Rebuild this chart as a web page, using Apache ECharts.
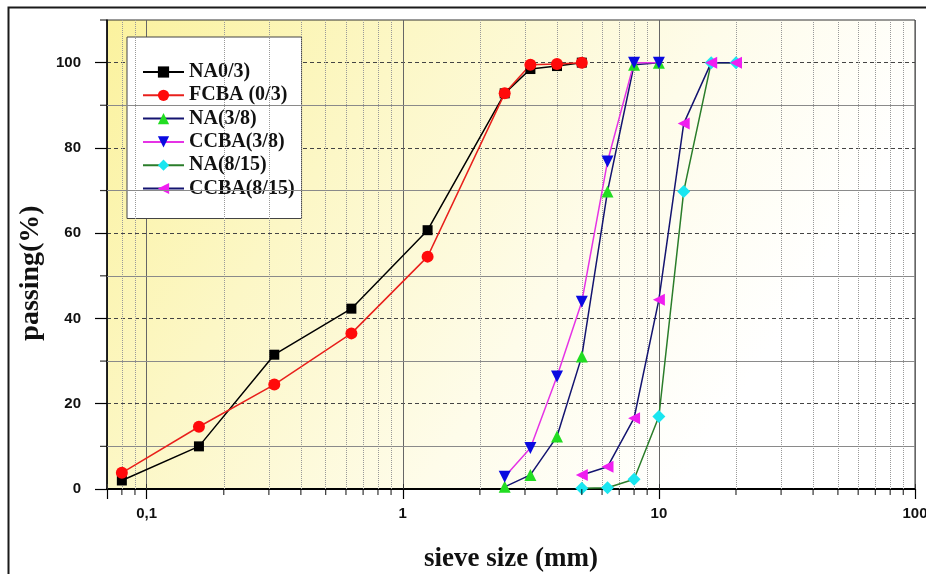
<!DOCTYPE html>
<html><head><meta charset="utf-8">
<script src="https://cdn.jsdelivr.net/npm/echarts@6/dist/echarts.min.js"></script>
<style>html,body{margin:0;padding:0;background:#fff}#c{width:926px;height:574px}</style>
</head><body><div id="c"></div>
<script>
// sieve sizes (mm)
const sieveFine = [0.08, 0.16, 0.315, 0.63, 1.25, 2.5, 3.15, 4, 5];
const sieveMid = [2.5, 3.15, 4, 5, 6.3, 8, 10];
const sieveCoarse = [5, 6.3, 8, 10, 12.5, 16, 20];
// passing (%)
const na03 = [2, 10, 31.5, 42.3, 60.7, 92.8, 98.5, 99.2, 100];
const fcba03 = [3.8, 14.6, 24.5, 36.5, 54.5, 92.8, 99.5, 99.7, 100];
const na38 = [0.5, 3.3, 12.3, 31.1, 69.8, 99.5, 100];
const ccba38 = [2.9, 9.6, 26.4, 43.9, 76.8, 100, 100];
const na815 = [0.2, 0.3, 2.3, 17, 69.8, 100, 100];
const ccba815 = [3.3, 5.2, 16.6, 44.4, 85.7, 100, 100];
const seriesNames = ['NA0/3)', 'FCBA (0/3)', 'NA(3/8)', 'CCBA(3/8)', 'NA(8/15)', 'CCBA(8/15)'];
// axis ticks
const xMin = 0.07, xMax = 100;
const xMinorTicks = [0.08, 0.09, 0.2, 0.3, 0.4, 0.5, 0.6, 0.7, 0.8, 0.9, 2, 3, 4, 5, 6, 7, 8, 9, 20, 30, 40, 50, 60, 70, 80, 90];
const yMajorTicks = [0, 20, 40, 60, 80, 100];
const yMinorTicks = [10, 30, 50, 70, 90, 110];

const pair = (xs, ys) => xs.map((x, i) => [x, ys[i]]);
const serif = 'Liberation Serif';
const sans = 'Liberation Sans';

function mk(name, xs, ys, lineColor, symColor, symbol, size, rotate) {
  return {
    name, type: 'line', data: pair(xs, ys), z: 5,
    symbol, symbolSize: size, symbolRotate: rotate || 0,
    lineStyle: { color: lineColor, width: 1.5 },
    itemStyle: { color: symColor, borderWidth: 0 },
    emphasis: { disabled: true }, animation: false
  };
}

const chart = echarts.init(document.getElementById('c'), null, { renderer: 'canvas' });
chart.setOption({
  backgroundColor: '#fff',
  animation: false,
  graphic: [{
    type: 'rect', left: 6, top: 5, silent: true, z: -10,
    shape: { x: 0, y: 0, width: 940, height: 600 },
    style: { fill: 'none', stroke: '#1a1a1a', lineWidth: 2 }
  }],
  grid: {
    left: 107, right: 11, top: 20, bottom: 85, show: true,
    containLabel: false, outerBoundsMode: 'none',
    borderColor: '#333', borderWidth: 1,
    backgroundColor: {
      type: 'linear', x: 0, y: 0, x2: 0.9, y2: 1,
      colorStops: [
        { offset: 0, color: '#fbf29e' },
        { offset: 0.3, color: '#fcf7c6' },
        { offset: 0.6, color: '#fefcea' },
        { offset: 0.85, color: '#ffffff' }
      ]
    }
  },
  legend: {
    data: seriesNames,
    orient: 'vertical', left: 127, top: 37,
    padding: [25, 7, 20, 15], itemGap: 3.3, itemWidth: 41, itemHeight: 14,
    backgroundColor: '#fff', borderColor: '#444', borderWidth: 1,
    textStyle: { fontFamily: serif, fontWeight: 'bold', fontSize: 20, color: '#111', lineHeight: 19 },
    selectedMode: false
  },
  xAxis: [{
    type: 'log', logBase: 10, min: xMin, max: xMax,
    name: 'sieve size (mm)', nameLocation: 'middle', nameGap: 57,
    nameTextStyle: { fontFamily: serif, fontWeight: 'bold', fontSize: 27, color: '#111' },
    axisLine: { show: true, onZero: false, lineStyle: { color: '#000', width: 2 } },
    axisTick: { show: true, inside: false, length: 10, lineStyle: { color: '#000', width: 1.2 } },
    axisLabel: {
      margin: 17, fontFamily: sans, fontWeight: 'bold', fontSize: 15, color: '#111',
      formatter: v => { const l = Math.log10(v); return Math.abs(l - Math.round(l)) < 1e-6 ? String(v).replace('.', ',') : ''; }
    },
    splitLine: { show: true, lineStyle: { color: '#666', width: 1 } },
    minorTick: { show: false }
  }, {
    type: 'log', logBase: 10, min: xMin, max: xMax, position: 'top',
    axisLine: { show: false },
    axisTick: { show: true, inside: false, length: 5, lineStyle: { color: '#333', width: 1 } },
    axisLabel: { show: false },
    splitLine: { show: false }
  }],
  yAxis: {
    type: 'value', min: 0, max: 110, interval: 20,
    name: 'passing(%)', nameLocation: 'middle', nameGap: 53, nameRotate: 90,
    nameTextStyle: { fontFamily: serif, fontWeight: 'bold', fontSize: 28, color: '#111', padding: [0, 37, 0, 0] },
    axisLine: { show: true, lineStyle: { color: '#000', width: 1.5 } },
    axisTick: { show: true, inside: false, length: 12, customValues: yMajorTicks, lineStyle: { color: '#000', width: 1.2 } },
    axisLabel: { margin: 26, customValues: yMajorTicks, fontFamily: sans, fontWeight: 'bold', fontSize: 15, color: '#111' },
    splitLine: { show: true, lineStyle: { color: '#444', width: 1, type: [4, 3] } }
  },
  series: [
    {
      name: 'xMinor', type: 'scatter', z: 6, silent: true, clip: false,
      symbol: 'rect', symbolSize: [1.2, 6], symbolOffset: [0, 3],
      itemStyle: { color: '#000' },
      data: xMinorTicks.map(v => [v, 0]),
      markLine: {
        silent: true, symbol: ['none', 'none'], label: { show: false }, animation: false,
        lineStyle: { color: '#999', width: 1, type: 'dotted' },
        data: xMinorTicks.map(v => ({ xAxis: v }))
      }
    },
    {
      name: 'yMinor', type: 'scatter', z: 6, silent: true, clip: false,
      symbol: 'rect', symbolSize: [7, 1.2], symbolOffset: [-3.5, 0],
      itemStyle: { color: '#000' },
      data: yMinorTicks.map(v => [xMin, v]),
      markLine: {
        silent: true, symbol: ['none', 'none'], label: { show: false }, animation: false,
        lineStyle: { color: '#8a8a8a', width: 1, type: 'solid' },
        data: yMinorTicks.filter(v => v < 110).map(v => ({ yAxis: v }))
      }
    },
    mk(seriesNames[0], sieveFine, na03, '#000000', '#000000', 'rect', 10),
    mk(seriesNames[1], sieveFine, fcba03, '#e8201c', '#ff0a0a', 'circle', 12),
    mk(seriesNames[2], sieveMid, na38, '#141470', '#22dd22', 'triangle', 12),
    mk(seriesNames[3], sieveMid, ccba38, '#e533e5', '#0a0ae0', 'triangle', 12, 180),
    mk(seriesNames[4], sieveCoarse, na815, '#2a7d2a', '#19e6f0', 'diamond', 13),
    mk(seriesNames[5], sieveCoarse, ccba815, '#141470', '#f01ef0', 'triangle', 12, 90)
  ]
});
</script></body></html>
